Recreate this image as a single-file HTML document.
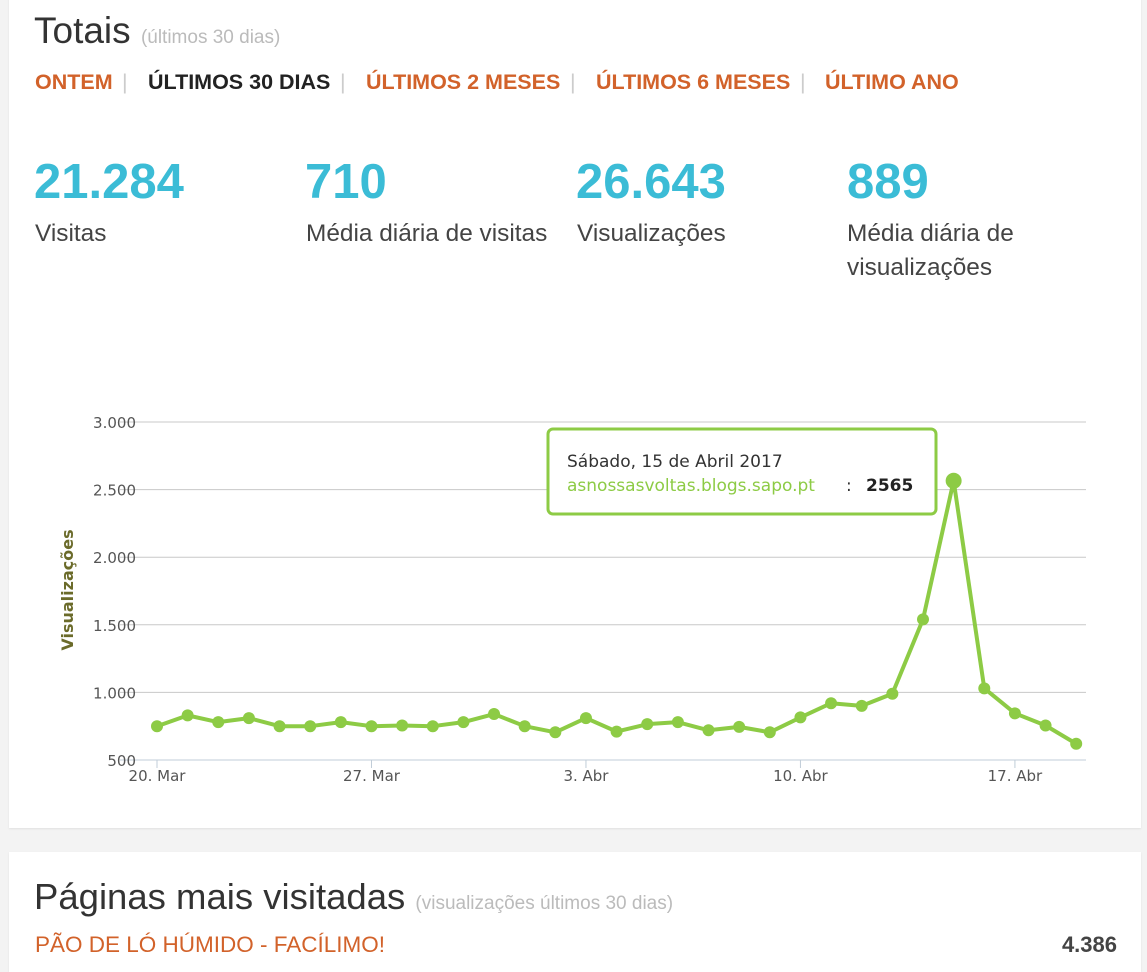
<!DOCTYPE html>
<html><head><meta charset="utf-8"><style>
body{margin:0;width:1147px;height:960px;background:#f3f3f3;font-family:"Liberation Sans",sans-serif;position:relative;overflow:hidden}
.card{position:absolute;background:#fff;left:9px;width:1132px;box-shadow:0 1px 2px rgba(0,0,0,.08)}
.abs{position:absolute;white-space:nowrap}
.nav{top:70px;font-size:21.5px;font-weight:bold;color:#d2622a}
.sep{color:#ccc;font-weight:normal}
.num{top:154px;font-size:49px;font-weight:bold;color:#3bbcd6}
.lbl{top:217px;font-size:24.4px;color:#444;line-height:34px}
</style></head><body>
<div class="card" style="top:-5px;height:833px"></div>
<div class="card" style="top:852px;height:120px"></div>
<div class="abs" style="left:34px;top:10px;font-size:37px;color:#333">Totais <span style="font-size:19px;color:#bbb">(últimos 30 dias)</span></div>
<div class="abs nav" style="left:35px">ONTEM</div>
<div class="abs nav sep" style="left:122px">|</div>
<div class="abs nav" style="left:148px;color:#222">ÚLTIMOS 30 DIAS</div>
<div class="abs nav sep" style="left:340px">|</div>
<div class="abs nav" style="left:366px">ÚLTIMOS 2 MESES</div>
<div class="abs nav sep" style="left:570px">|</div>
<div class="abs nav" style="left:596px">ÚLTIMOS 6 MESES</div>
<div class="abs nav sep" style="left:800px">|</div>
<div class="abs nav" style="left:825px">ÚLTIMO ANO</div>

<div class="abs num" style="left:34px">21.284</div>
<div class="abs lbl" style="left:35px">Visitas</div>
<div class="abs num" style="left:305px">710</div>
<div class="abs lbl" style="left:306px">Média diária de visitas</div>
<div class="abs num" style="left:576px">26.643</div>
<div class="abs lbl" style="left:577px">Visualizações</div>
<div class="abs num" style="left:847px">889</div>
<div class="abs lbl" style="left:847px">Média diária de<br>visualizações</div>

<svg class="abs" style="left:0;top:0" width="1147" height="830" id="chart"></svg>

<div class="abs" style="left:34px;top:876px;font-size:36.5px;color:#333">Páginas mais visitadas <span style="font-size:19px;color:#bbb">(visualizações últimos 30 dias)</span></div>
<div class="abs" style="left:35px;top:932px;font-size:22.5px;color:#d2622a">PÃO DE LÓ HÚMIDO - FACÍLIMO!</div>
<div class="abs" style="right:30px;top:932px;font-size:22px;font-weight:bold;color:#444">4.386</div>

<script>
const values=[750,830,780,810,750,750,780,750,755,750,780,840,750,705,810,710,765,780,720,745,705,815,920,900,990,1540,2565,1030,845,755,620];
const yTicks=[500,1000,1500,2000,2500,3000];
const yTickLabels=["500","1.000","1.500","2.000","2.500","3.000"];
const xTickIdx=[0,7,14,21,28];
const xTickLabels=["20. Mar","27. Mar","3. Abr","10. Abr","17. Abr"];
const hoverIdx=26;
const NS="http://www.w3.org/2000/svg";
const svg=document.getElementById('chart');
const F='DejaVu Sans';
const X0=157,DX=30.64,Y0=760,YS=338/2500;
const x=i=>X0+i*DX, y=v=>Y0-(v-500)*YS;
function mk(t,a,p){const e=document.createElementNS(NS,t);for(const k in a)e.setAttribute(k,a[k]);(p||svg).appendChild(e);return e;}
yTicks.forEach((v,i)=>{
 const l=mk('line',{x1:120,x2:1086,y1:y(v),y2:y(v),stroke:i==0?'#c0ccd8':'#c8c8c8','stroke-width':1});
 
 
 const t=mk('text',{x:136,y:y(v)+6,'text-anchor':'end','font-size':15,fill:'#555','font-family':F});
 t.textContent=yTickLabels[i];
 
 
});
xTickIdx.forEach((d,i)=>{
 const l=mk('line',{x1:x(d),x2:x(d),y1:760,y2:768,stroke:'#c0ccd8'});
 
 
 const t=mk('text',{x:x(d),y:781,'text-anchor':'middle','font-size':15,fill:'#555','font-family':F});
 t.textContent=xTickLabels[i];
 
 
});
const at=mk('text',{x:0,y:0,transform:'translate(73,590) rotate(-90)','text-anchor':'middle','font-size':16,'font-weight':'bold',fill:'#6b6b2a','font-family':F});
at.textContent='Visualizações';


const line=mk('polyline',{points:values.map((v,i)=>x(i)+','+y(v)).join(' '),fill:'none',stroke:'#8dcb45','stroke-width':4,'stroke-linejoin':'round'});


values.forEach((v,i)=>{
 const c=mk('circle',{cx:x(i),cy:y(v),r:i==hoverIdx?8:6,fill:'#8dcb45'});
 
 
});
const g=mk('g',{});


mk('rect',{x:548,y:429,width:388,height:85,rx:5,fill:'#fff',stroke:'#8dcb45','stroke-width':3},g);
const t1=mk('text',{x:567,y:467,'font-size':17,fill:'#333','font-family':F},g);
t1.textContent='Sábado, 15 de Abril 2017';
const t2=mk('text',{x:567,y:491,'font-size':17,fill:'#8dcb45','font-family':F},g);
t2.textContent='asnossasvoltas.blogs.sapo.pt';
const t3=mk('text',{x:846,y:491,'font-size':17,fill:'#333','font-family':F},g);
t3.textContent=':';
const t4=mk('text',{x:866,y:491,'font-size':17,'font-weight':'bold',fill:'#222','font-family':F},g);
t4.textContent=String(values[hoverIdx]);
</script>
</body></html>
